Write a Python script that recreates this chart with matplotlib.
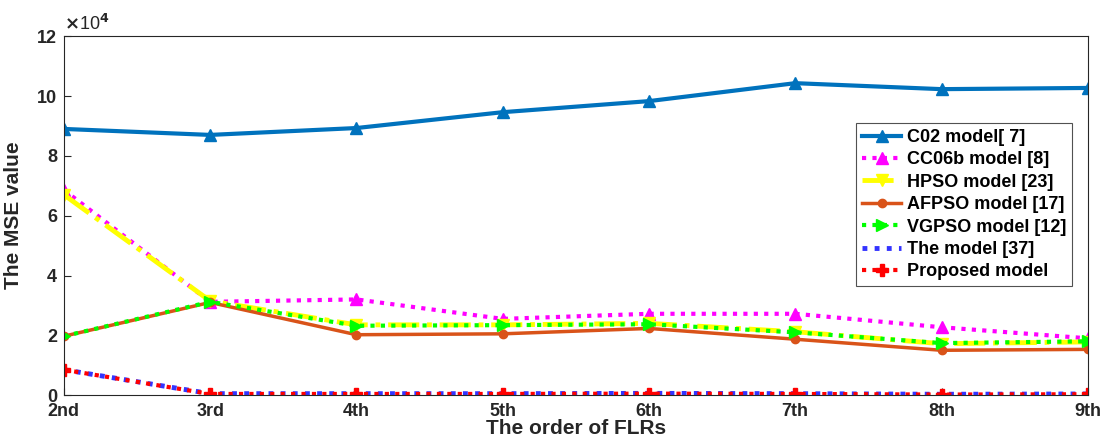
import numpy as np
import matplotlib.pyplot as plt

plt.rcParams['font.family'] = ['Liberation Sans', 'DejaVu Sans']
plt.rcParams['font.weight'] = 'bold'
plt.rcParams['axes.labelweight'] = 'bold'

orders = ["2nd", "3rd", "4th", "5th", "6th", "7th", "8th", "9th"]

# MSE values in units of 1e4
c02 = [8.9, 8.7, 8.93, 9.46, 9.83, 10.43, 10.23, 10.27]
cc06b = [6.86, 3.12, 3.2, 2.55, 2.72, 2.72, 2.27, 1.9]
hpso = [6.7, 3.15, 2.35, 2.35, 2.4, 2.12, 1.72, 1.78]
afpso = [1.97, 3.1, 2.02, 2.05, 2.23, 1.87, 1.5, 1.53]
vgpso = [1.97, 3.12, 2.32, 2.34, 2.37, 2.1, 1.74, 1.8]
model37 = [0.85, 0.05, 0.05, 0.05, 0.06, 0.05, 0.03, 0.04]
proposed = [0.85, 0.04, 0.04, 0.04, 0.05, 0.04, 0.02, 0.03]

x = np.arange(len(orders))

fig = plt.figure(figsize=(11.01, 4.47), dpi=100)
ax = fig.add_axes([0.058, 0.116, 0.930, 0.803])

ax.plot(x, c02, color="#0072BD", lw=3, marker="^", ms=9, label="C02 model[ 7]")
ax.plot(x, cc06b, color="#FF00FF", lw=3, ls=(0, (1, 1.5)), marker="^", ms=9,
        label="CC06b model [8]")
ax.plot(x, hpso, color="#FFFF00", lw=3.5, ls="-.", marker="v", ms=9,
        label="HPSO model [23]")
ax.plot(x, afpso, color="#D95319", lw=2.5, marker="o", ms=6,
        label="AFPSO model [17]")
ax.plot(x, vgpso, color="#00FF00", lw=3, ls=(0, (1, 1.5)), marker=">", ms=9,
        label="VGPSO model [12]")
ax.plot(x, model37, color="#3333FF", lw=3.5, ls=(0, (1, 1.5)),
        label="The model [37]")
ax.plot(x, proposed, color="#FF0000", lw=3, ls=(0, (1, 1.5)), marker="P", ms=9,
        label="Proposed model")

ax.set_xlim(0, len(orders) - 1)
ax.set_ylim(0, 12)
ax.set_xticks(x)
ax.set_xticklabels(orders)
ax.set_yticks(np.arange(0, 13, 2))
ax.tick_params(direction="in", length=5, labelsize=13, colors="#262626")
ax.tick_params(axis="x", pad=6)
ax.tick_params(axis="y", pad=5)
for s in ax.spines.values():
    s.set_color("#262626")
    s.set_linewidth(0.8)

ax.text(0.0, 1.005, r"$\times$10$^4$", transform=ax.transAxes, fontsize=13,
        fontweight="normal", color="#262626", va="bottom", ha="left")

ax.set_xlabel("The order of FLRs", fontsize=15, color="#262626", labelpad=-1)
ax.set_ylabel("The MSE value", fontsize=15, color="#262626", labelpad=10)

leg = ax.legend(loc="upper right", bbox_to_anchor=(0.993, 0.782), fontsize=13,
                frameon=True, fancybox=False, edgecolor="#262626",
                handlelength=2.2, borderpad=0.3, labelspacing=0.3,
                handletextpad=0.3)
leg.get_frame().set_linewidth(0.8)

fig.savefig("out.png", dpi=100)
